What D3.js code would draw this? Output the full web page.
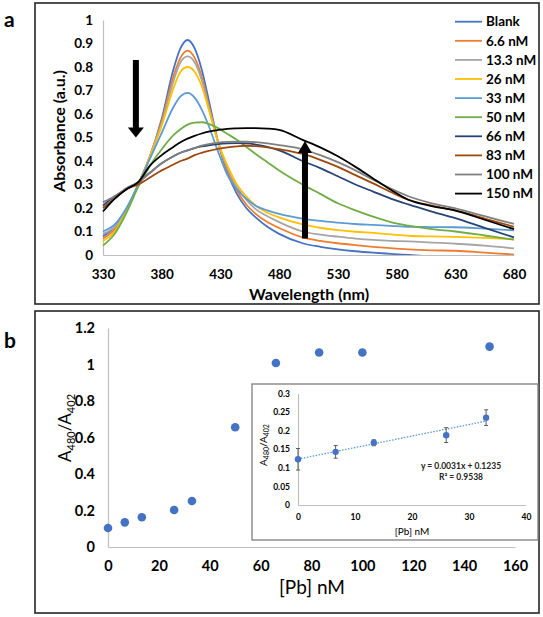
<!DOCTYPE html>
<html><head><meta charset="utf-8">
<script src="https://cdn.jsdelivr.net/npm/d3@7"></script>
<style>body{margin:0;background:#fff}text{font-family:Lato,"Open Sans",sans-serif}</style>
</head><body>
<svg id="c" width="543" height="617"></svg>
<script>
// ---------- DATA ----------
const wavelengths = [330,340,350,360,370,380,390,396,402,408,414,420,428,436,444,452,460,470,480,500,515,530,545,560,575,590,610,630,655,680];
const seriesNames = ["Blank","6.6 nM","13.3 nM","26 nM","33 nM","50 nM","66 nM","83 nM","100 nM","150 nM"];
const absBlank = [.08,.12,.19,.30,.42,.58,.79,.88,.915,.88,.79,.66,.48,.35,.26,.20,.16,.12,.09,.05,.035,.024,.016,.01,.005,0,-.006,-.012,-.02,-.03];
const abs6_6   = [.07,.11,.19,.30,.42,.57,.76,.84,.87,.84,.76,.64,.48,.36,.275,.215,.175,.14,.115,.075,.06,.05,.042,.035,.029,.024,.02,.018,.01,.002];
const abs13_3  = [.09,.12,.19,.30,.42,.56,.74,.82,.845,.82,.745,.63,.48,.37,.29,.235,.195,.165,.14,.10,.087,.078,.07,.064,.06,.058,.053,.048,.04,.028];
const abs26    = [.06,.10,.19,.30,.42,.55,.71,.78,.80,.78,.72,.62,.48,.38,.30,.25,.21,.18,.16,.13,.116,.106,.099,.094,.088,.082,.079,.077,.073,.067];
const abs33    = [.10,.13,.20,.30,.41,.52,.63,.675,.69,.67,.62,.55,.44,.34,.28,.24,.21,.19,.175,.155,.145,.138,.132,.128,.124,.12,.119,.118,.112,.105];
const abs50    = [.04,.09,.18,.29,.38,.45,.51,.535,.555,.563,.565,.558,.54,.515,.49,.46,.43,.395,.36,.30,.26,.22,.19,.163,.14,.125,.11,.10,.083,.065];
const abs66    = [.21,.25,.28,.31,.35,.39,.42,.435,.445,.455,.462,.467,.472,.475,.476,.475,.47,.46,.445,.40,.37,.335,.30,.27,.24,.215,.185,.157,.115,.075];
const abs83    = [.20,.24,.28,.30,.33,.36,.385,.40,.41,.425,.435,.443,.452,.458,.462,.465,.463,.458,.45,.43,.405,.375,.34,.305,.268,.235,.21,.19,.155,.12];
const abs100   = [.225,.25,.285,.31,.35,.39,.42,.435,.445,.455,.465,.472,.478,.481,.482,.482,.48,.475,.468,.45,.425,.395,.36,.32,.283,.25,.22,.198,.165,.132];
const abs150   = [.185,.24,.28,.31,.38,.425,.46,.48,.495,.507,.517,.525,.532,.537,.539,.54,.54,.538,.532,.49,.458,.42,.375,.326,.278,.235,.208,.189,.15,.11];
const spectra = [absBlank,abs6_6,abs13_3,abs26,abs33,abs50,abs66,abs83,abs100,abs150];
const seriesColors = ["#4472C4","#ED7D31","#A5A5A5","#FFC000","#5B9BD5","#70AD47","#264478","#9E480E","#7F7F7F","#000000"];
const wlTicks = [330,380,430,480,530,580,630,680];
const absTicks = [0,0.1,0.2,0.3,0.4,0.5,0.6,0.7,0.8,0.9,1];

const concPb = [0,6.6,13.3,26,33,50,66,83,100,150];
const ratio  = [0.104,0.135,0.163,0.203,0.252,0.656,1.008,1.066,1.066,1.098];
const pbTicks = [0,20,40,60,80,100,120,140,160];
const ratioTicks = [0,0.2,0.4,0.6,0.8,1,1.2];

const insetConc  = [0,6.6,13.3,26,33];
const insetRatio = [0.123,0.143,0.1675,0.188,0.235];
const insetErr   = [0.029,0.017,0.008,0.020,0.021];
const insetXTicks = [0,10,20,30,40];
const insetYTicks = [0,0.05,0.1,0.15,0.2,0.25,0.3];
const trendSlope = 0.0031, trendIntercept = 0.1235;

// ---------- DRAW ----------
const svg = d3.select("#c");
const fmt = d => d === 0 ? "0" : String(+d.toFixed(3));
const axisCol = "#BFBFBF";

function styleAxis(g, fs, weight){
  g.select(".domain").attr("stroke", axisCol).attr("stroke-width", 1.2);
  g.selectAll(".tick line").remove();
  g.selectAll("text").attr("font-family","Lato,sans-serif").attr("font-size",fs).attr("font-weight",weight).attr("fill","#000");
}

// Panel a frame
svg.append("rect").attr("x",35).attr("y",3).attr("width",504).attr("height",301)
  .attr("fill","none").attr("stroke","#262626").attr("stroke-width",1.6);
svg.append("text").attr("x",4).attr("y",27).attr("font-family","Liberation Sans,Arial,sans-serif")
  .attr("font-weight","bold").attr("font-size",21).text("a");

const xA = d3.scaleLinear().domain([330,680]).range([103,514]);
const yA = d3.scaleLinear().domain([0,1]).range([255,20]);

svg.append("g").attr("transform","translate(103,0)")
  .call(d3.axisLeft(yA).tickValues(absTicks).tickSize(0).tickSizeOuter(0).tickPadding(10).tickFormat(fmt))
  .call(g=>styleAxis(g,13.5,"bold"));
svg.append("g").attr("transform","translate(0,255)")
  .call(d3.axisBottom(xA).tickValues(wlTicks).tickSize(0).tickSizeOuter(0).tickPadding(14).tickFormat(d3.format("d")))
  .call(g=>styleAxis(g,13.5,"bold"));

svg.append("defs").append("clipPath").attr("id","clipA")
  .append("rect").attr("x",100).attr("y",10).attr("width",420).attr("height",245);

const lineA = d3.line().x((d,i)=>xA(wavelengths[i])).y(d=>yA(d)).curve(d3.curveMonotoneX);
const gl = svg.append("g").attr("clip-path","url(#clipA)");
spectra.forEach((s,k)=>{
  gl.append("path").attr("d",lineA(s)).attr("fill","none")
    .attr("stroke",seriesColors[k]).attr("stroke-width",1.8);
});

// arrows
function arrow(x, y0, y1, shaftW, headW, headH){
  const dir = y1 > y0 ? 1 : -1;
  const yb = y1 - dir*headH;
  svg.append("path").attr("fill","#000").attr("d",
    `M${x-shaftW/2},${y0} L${x+shaftW/2},${y0} L${x+shaftW/2},${yb} L${x+headW/2},${yb} L${x},${y1} L${x-headW/2},${yb} L${x-shaftW/2},${yb} Z`);
}
arrow(xA(358), yA(0.83), yA(0.50), 6, 16, 10);
arrow(xA(502), yA(0.07), yA(0.485), 6, 14, 12);

// legend
seriesNames.forEach((n,k)=>{
  const y = 21.7 + k*19.1;
  svg.append("line").attr("x1",455).attr("x2",482).attr("y1",y).attr("y2",y)
    .attr("stroke",seriesColors[k]).attr("stroke-width",1.8);
  svg.append("text").attr("x",486).attr("y",y).attr("dy","0.35em")
    .attr("font-size",13.5).attr("font-weight","bold").text(n);
});

svg.append("text").attr("x",309).attr("y",300).attr("text-anchor","middle")
  .attr("font-size",16).attr("font-weight","bold").text("Wavelength (nm)");
svg.append("text").attr("transform","translate(65,131) rotate(-90)").attr("text-anchor","middle")
  .attr("font-size",16).attr("font-weight","bold").text("Absorbance (a.u.)");

// Panel b frame
svg.append("rect").attr("x",35).attr("y",311).attr("width",504).attr("height",302)
  .attr("fill","none").attr("stroke","#262626").attr("stroke-width",1.6);
svg.append("text").attr("x",4).attr("y",348).attr("font-family","Liberation Sans,Arial,sans-serif")
  .attr("font-weight","bold").attr("font-size",21).text("b");

const xB = d3.scaleLinear().domain([0,160]).range([108,515]);
const yB = d3.scaleLinear().domain([0,1.2]).range([547,328]);

svg.append("g").attr("transform","translate(108,0)")
  .call(d3.axisLeft(yB).tickValues(ratioTicks).tickSize(0).tickSizeOuter(0).tickPadding(13).tickFormat(fmt))
  .call(g=>styleAxis(g,14.5,"bold"));
svg.append("g").attr("transform","translate(0,547)")
  .call(d3.axisBottom(xB).tickValues(pbTicks).tickSize(0).tickSizeOuter(0).tickPadding(13.5).tickFormat(d3.format("d")))
  .call(g=>styleAxis(g,14.5,"bold"));

svg.append("g").selectAll("circle").data(concPb).join("circle")
  .attr("cx",d=>xB(d)).attr("cy",(d,i)=>yB(ratio[i])).attr("r",4.3).attr("fill","#4472C4");

svg.append("text").attr("x",312).attr("y",594).attr("text-anchor","middle")
  .attr("font-size",19).text("[Pb] nM");
const tb = svg.append("text").attr("transform","translate(71,428) rotate(-90)").attr("text-anchor","middle")
  .attr("font-size",17);
tb.append("tspan").text("A");
tb.append("tspan").attr("font-size",11).attr("dy",4).text("480");
tb.append("tspan").attr("dy",-4).text("/A");
tb.append("tspan").attr("font-size",11).attr("dy",4).text("402");

// Inset
svg.append("rect").attr("x",252).attr("y",384).attr("width",286).attr("height",156)
  .attr("fill","#fff").attr("stroke","#7F7F7F").attr("stroke-width",1.3);
const xI = d3.scaleLinear().domain([0,40]).range([298,526]);
const yI = d3.scaleLinear().domain([0,0.3]).range([505,393.5]);
svg.append("g").attr("transform","translate(298,0)")
  .call(d3.axisLeft(yI).tickValues(insetYTicks).tickSize(0).tickSizeOuter(0).tickPadding(8).tickFormat(fmt))
  .call(g=>styleAxis(g,8.5,"bold"));
svg.append("g").attr("transform","translate(0,505)")
  .call(d3.axisBottom(xI).tickValues(insetXTicks).tickSize(0).tickSizeOuter(0).tickPadding(9).tickFormat(d3.format("d")))
  .call(g=>styleAxis(g,8.5,"bold"));

const xEnd = insetConc[insetConc.length-1];
svg.append("line").attr("x1",xI(0)).attr("y1",yI(trendIntercept))
  .attr("x2",xI(xEnd)).attr("y2",yI(trendIntercept+trendSlope*xEnd))
  .attr("stroke","#5B9BD5").attr("stroke-width",1.3).attr("stroke-dasharray","1.5,1.5");

const eg = svg.append("g").attr("stroke","#595959").attr("stroke-width",1);
insetConc.forEach((c,i)=>{
  const x = xI(c), t = yI(insetRatio[i]+insetErr[i]), b = yI(insetRatio[i]-insetErr[i]);
  eg.append("line").attr("x1",x).attr("x2",x).attr("y1",t).attr("y2",b);
  eg.append("line").attr("x1",x-2).attr("x2",x+2).attr("y1",t).attr("y2",t);
  eg.append("line").attr("x1",x-2).attr("x2",x+2).attr("y1",b).attr("y2",b);
});
svg.append("g").selectAll("circle").data(insetConc).join("circle")
  .attr("cx",d=>xI(d)).attr("cy",(d,i)=>yI(insetRatio[i])).attr("r",3.2).attr("fill","#4472C4");

svg.append("text").attr("x",461).attr("y",469).attr("text-anchor","middle")
  .attr("font-size",8.5).attr("font-weight","bold").attr("fill","#222").text("y = 0.0031x + 0.1235");
svg.append("text").attr("x",461).attr("y",480).attr("text-anchor","middle")
  .attr("font-size",8.5).attr("font-weight","bold").attr("fill","#222").text("R² = 0.9538");

svg.append("text").attr("x",412).attr("y",535).attr("text-anchor","middle")
  .attr("font-size",10).text("[Pb] nM");
const ti = svg.append("text").attr("transform","translate(267,445) rotate(-90)").attr("text-anchor","middle")
  .attr("font-size",10);
ti.append("tspan").text("A");
ti.append("tspan").attr("font-size",7).attr("dy",2).text("480");
ti.append("tspan").attr("dy",-2).text("/A");
ti.append("tspan").attr("font-size",7).attr("dy",2).text("402");
</script>
</body></html>
